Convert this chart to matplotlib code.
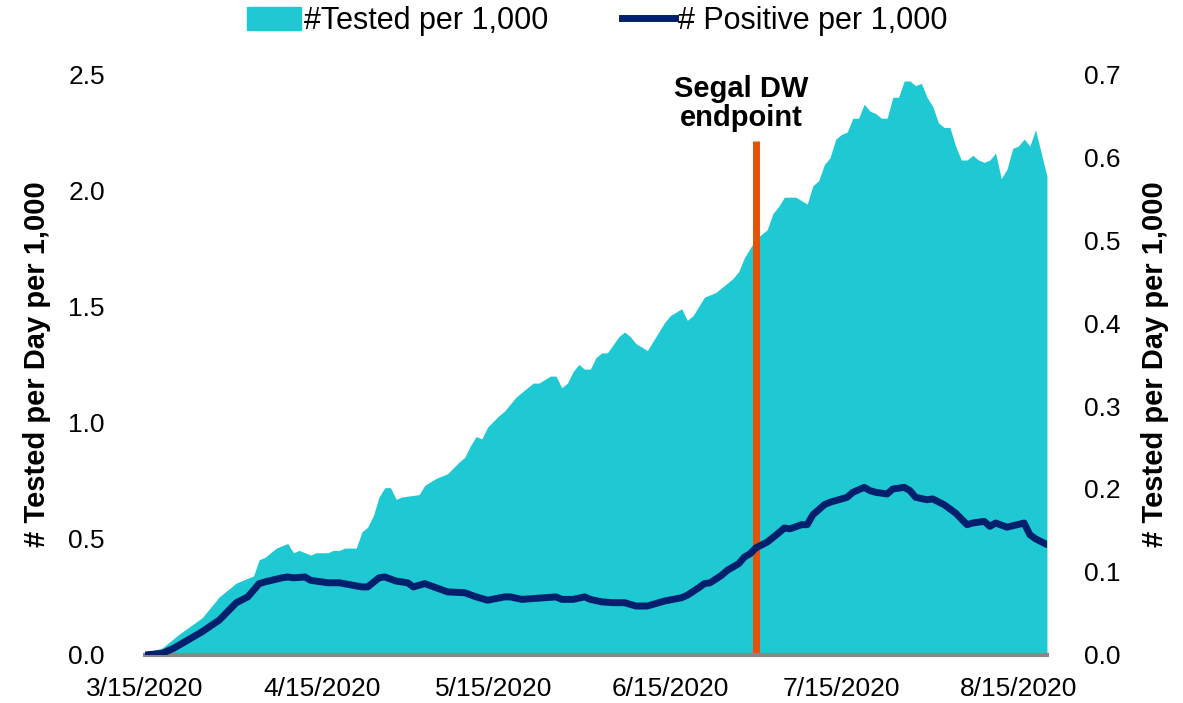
import numpy as np
import pandas as pd
import matplotlib
matplotlib.use("Agg")
import matplotlib.pyplot as plt
from matplotlib.patches import Patch
from matplotlib.lines import Line2D

plt.rcParams['font.family'] = ['Liberation Sans', 'DejaVu Sans']

# дни от 3/15/2020 и значения
start = pd.Timestamp("2020-03-15")
tested_day = [0, 3, 6, 10, 13, 15, 16, 17, 19, 20, 21, 23, 25, 26, 27, 29, 30, 32, 33, 34,
              35, 37, 38, 39, 40, 41, 42, 43, 44, 45, 48, 49, 51, 53, 55, 56, 57, 58, 59, 60,
              62, 63, 65, 66, 68, 69, 71, 72, 73, 74, 75, 76, 77, 78, 79, 80, 81, 83, 84, 85,
              86, 88, 89, 91, 92, 94, 95, 96, 98, 99, 100, 102, 103, 104, 105, 106, 107, 108, 109, 110,
              111, 112, 114, 116, 117, 118, 119, 120, 121, 122, 123, 124, 125, 126, 127, 128, 129, 130, 131, 132,
              133, 134, 135, 136, 137, 138, 139, 140, 141, 142, 143, 144, 145, 146, 147, 148, 149, 150, 151, 152,
              153, 154, 155, 156, 158]
tested = [0.01, 0.03, 0.09, 0.16, 0.25, 0.29, 0.31, 0.32, 0.34, 0.41, 0.42, 0.46, 0.48, 0.44, 0.45, 0.43, 0.44, 0.44, 0.45, 0.45,
          0.46, 0.46, 0.53, 0.55, 0.60, 0.68, 0.72, 0.72, 0.67, 0.68, 0.69, 0.73, 0.76, 0.78, 0.83, 0.85, 0.90, 0.94, 0.93, 0.98,
          1.03, 1.05, 1.11, 1.13, 1.17, 1.17, 1.20, 1.20, 1.15, 1.17, 1.22, 1.25, 1.23, 1.23, 1.28, 1.30, 1.30, 1.37, 1.39, 1.37,
          1.34, 1.31, 1.35, 1.43, 1.46, 1.49, 1.44, 1.46, 1.54, 1.55, 1.56, 1.60, 1.62, 1.65, 1.71, 1.75, 1.79, 1.81, 1.83, 1.90,
          1.93, 1.97, 1.97, 1.94, 2.02, 2.04, 2.11, 2.14, 2.22, 2.24, 2.25, 2.31, 2.31, 2.37, 2.34, 2.33, 2.31, 2.31, 2.40, 2.40,
          2.47, 2.47, 2.45, 2.46, 2.40, 2.36, 2.29, 2.27, 2.27, 2.19, 2.13, 2.13, 2.15, 2.13, 2.12, 2.13, 2.16, 2.05, 2.09, 2.18,
          2.19, 2.22, 2.19, 2.26, 2.06]

positive_day = [0, 3, 5, 7, 10, 13, 16, 18, 20, 21, 24, 25, 26, 28, 29, 32, 34, 38, 39, 41,
                42, 44, 46, 47, 49, 51, 53, 56, 58, 60, 63, 64, 66, 70, 72, 73, 75, 77, 78, 80,
                82, 84, 86, 88, 91, 94, 95, 97, 98, 99, 101, 102, 104, 105, 106, 107, 109, 111, 112, 113,
                115, 116, 117, 119, 120, 121, 123, 124, 126, 127, 128, 130, 131, 133, 134, 135, 137, 138, 140, 142,
                144, 145, 147, 148, 149, 151, 154, 155, 156, 158]
positive = [0.000, 0.002, 0.008, 0.016, 0.028, 0.042, 0.063, 0.070, 0.086, 0.088, 0.093, 0.094, 0.093, 0.094, 0.090, 0.087, 0.087, 0.082, 0.082, 0.093,
            0.094, 0.089, 0.087, 0.082, 0.086, 0.081, 0.076, 0.075, 0.070, 0.066, 0.070, 0.070, 0.067, 0.069, 0.070, 0.067, 0.067, 0.070, 0.067, 0.064,
            0.063, 0.063, 0.059, 0.059, 0.065, 0.069, 0.072, 0.081, 0.086, 0.087, 0.096, 0.102, 0.110, 0.118, 0.122, 0.129, 0.136, 0.147, 0.153, 0.152,
            0.157, 0.157, 0.169, 0.181, 0.184, 0.186, 0.190, 0.196, 0.202, 0.198, 0.196, 0.194, 0.200, 0.202, 0.198, 0.190, 0.187, 0.188, 0.181, 0.171,
            0.157, 0.159, 0.161, 0.155, 0.159, 0.154, 0.159, 0.145, 0.140, 0.133]

tick_dates = ["2020-03-15", "2020-04-15", "2020-05-15", "2020-06-15", "2020-07-15", "2020-08-15"]
tick_labels = ["3/15/2020", "4/15/2020", "5/15/2020", "6/15/2020", "7/15/2020", "8/15/2020"]
endpoint_date = "2020-06-30"
endpoint_top = 2.21

tested_x = start + pd.to_timedelta(tested_day, unit="D")
positive_x = start + pd.to_timedelta(positive_day, unit="D")

teal = "#1FC9D3"
navy = "#00206E"
orange = "#E35205"

fig = plt.figure(figsize=(11.83, 7.03), dpi=100)
ax = fig.add_axes([0.1226, 0.0683, 0.7624, 0.8264])
ax2 = ax.twinx()

ax.fill_between(tested_x, 0, tested, color=teal, lw=0, zorder=1)
ax.vlines(pd.Timestamp(endpoint_date), 0, endpoint_top, color=orange, lw=5, zorder=2)
ax.text(pd.Timestamp(endpoint_date) - pd.Timedelta(days=2.5), 2.25, "Segal DW\nendpoint",
        ha="center", va="bottom", fontsize=21, fontweight="bold", linespacing=1.05)

ax2.plot(positive_x, positive, color=navy, lw=5, solid_capstyle="round", zorder=3)

ax.set_xlim(start, start + pd.Timedelta(days=158))
ax.set_ylim(0, 2.5)
ax2.set_ylim(0, 0.7)
ax.set_yticks(np.arange(0, 2.51, 0.5))
ax2.set_yticks(np.arange(0, 0.71, 0.1))
ax.set_yticklabels([f"{v:.1f}" for v in np.arange(0, 2.51, 0.5)])
ax2.set_yticklabels([f"{v:.1f}" for v in np.arange(0, 0.71, 0.1)])
ax.set_xticks(pd.to_datetime(tick_dates))
ax.set_xticklabels(tick_labels)

for a in (ax, ax2):
    for s in ("top", "left", "right", "bottom"):
        a.spines[s].set_visible(False)
    a.tick_params(length=0, labelsize=19)
ax.tick_params(axis="y", pad=29)
ax2.tick_params(axis="y", pad=27)
ax.tick_params(axis="x", pad=16)
ax.axhline(0, color="#888888", lw=3, zorder=4, clip_on=False)

ax.set_ylabel("# Tested per Day per 1,000", fontsize=21, fontweight="bold", labelpad=12)
ax2.set_ylabel("# Tested per Day per 1,000", fontsize=21, fontweight="bold", rotation=90, labelpad=14)

handles = [Patch(color=teal), Line2D([], [], color=navy, lw=5)]
fig.legend(handles, ["#Tested per 1,000", "# Positive per 1,000"], loc="upper center",
           bbox_to_anchor=(0.505, 1.03), ncol=2, frameon=False, fontsize=22,
           handlelength=1.75, handleheight=0.8, handletextpad=0.1, columnspacing=2.4)

plt.savefig("out.png", dpi=100)
